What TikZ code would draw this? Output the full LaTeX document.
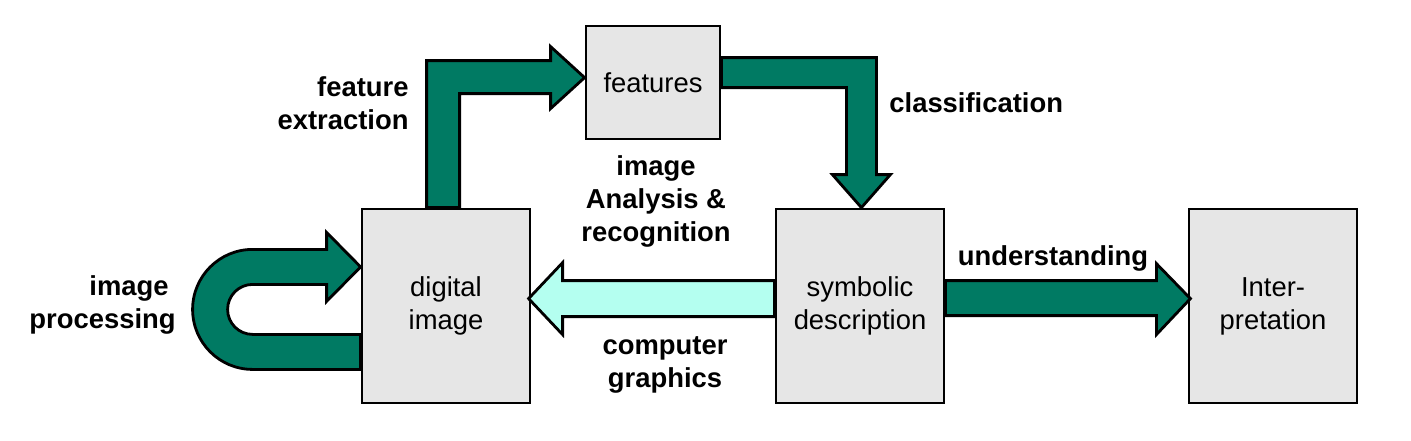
\documentclass[tikz,border=0pt]{standalone}
\usepackage{fontspec}
\setmainfont{Liberation Sans}

\definecolor{arrowgreen}{RGB}{0,122,99}
\definecolor{arrowcyan}{RGB}{180,255,240}
\definecolor{boxgray}{RGB}{230,230,230}

\tikzset{
  stagebox/.style={draw,line width=1.4pt,fill=boxgray,align=center,inner sep=0pt,
    font=\fontsize{13.7}{16.5}\selectfont},
  fatarrow/.style={draw,line width=1.4pt,fill=arrowgreen,line join=miter},
  steplabel/.style={inner sep=0pt,font=\fontsize{13.7}{16.5}\selectfont\bfseries}
}

\begin{document}
\begin{tikzpicture}[x=0.5pt,y=-0.5pt]
\useasboundingbox (0,0) rectangle (1411,440);

% stages
\node[stagebox,minimum width=84pt,minimum height=97pt] (dimg) at (446,306) {digital\\image};
\node[stagebox,minimum width=67pt,minimum height=56.5pt] (feat) at (653,82.5) {features};
\node[stagebox,minimum width=84pt,minimum height=97pt] (symb) at (860,306) {symbolic\\description};
\node[stagebox,minimum width=84pt,minimum height=97pt] (interp) at (1273,306) {Inter-\\pretation};

% block arrows
\draw[fatarrow] (dimg.south west) ++(0,-35)
-- ++(-108,0) arc[start angle=270,end angle=90,radius=30pt]
-- ++(74,0) -- ++(0,-17) -- ++(34,34.5) -- ++(-34,34.5) -- ++(0,-17)
-- ++(-74,0) arc[start angle=90,end angle=270,radius=12.5pt]
-- ++(108,0) -- cycle;
\draw[fatarrow] (dimg.north west) ++(66,0)
-- ++(0,-147) -- ++(124,0) -- ++(0,-14) -- ++(34,31) -- ++(-34,31)
-- ++(0,-15) -- ++(-91,0) -- ++(0,114) -- cycle;
\draw[fatarrow] (feat.north east) ++(0,33)
-- ++(155,0) -- ++(0,117) -- ++(14,0) -- ++(-29,33) -- ++(-29,-33)
-- ++(14,0) -- ++(0,-87) -- ++(-125,0) -- cycle;
\draw[fatarrow] (symb.north east) ++(0,73)
-- ++(211,0) -- ++(0,-17) -- ++(34,35) -- ++(-34,36) -- ++(0,-19)
-- ++(-211,0) -- cycle;
\draw[fatarrow,fill=arrowcyan] (symb.north west) ++(0,73)
-- ++(-212,0) -- ++(0,-18) -- ++(-34,36) -- ++(34,36) -- ++(0,-18)
-- ++(212,0) -- cycle;

% labels
\node[steplabel,align=right,anchor=east] (lblextr) at (409,103) {feature\\extraction};
\node[steplabel,anchor=west] (lblclass) at (889,103) {classification};
\node[steplabel,align=center] (lblanal) at (656,201) {image\\Analysis \&\\recognition};
\node[steplabel] (lblund) at (1053,258) {understanding};
\node[steplabel,align=right,anchor=east] (lblproc) at (176,305) {image\hspace*{3.5pt}\\processing};
\node[steplabel,align=center] (lblgraph) at (665,365) {computer\\graphics};
\end{tikzpicture}
\end{document}
